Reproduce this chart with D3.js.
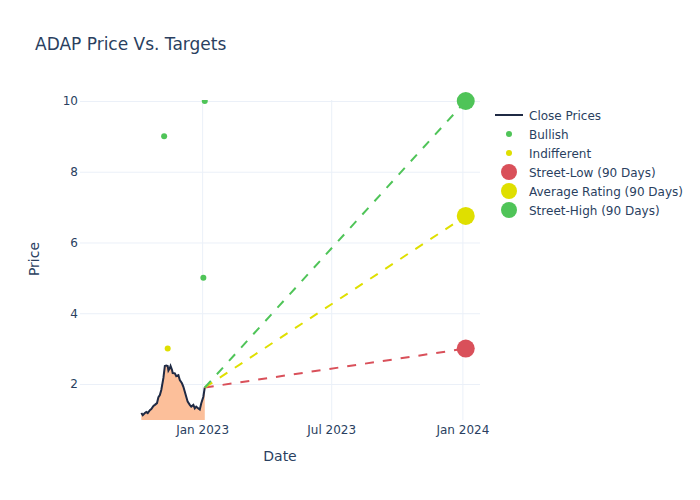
<!DOCTYPE html>
<html><head><meta charset="utf-8">
<script src="https://cdn.jsdelivr.net/npm/d3@7"></script>
<style>body{margin:0;background:#fff;} text{font-family:"DejaVu Sans",sans-serif;}</style>
</head><body><svg id="c" width="700" height="500"></svg>
<script>
const priceDates = ["2022-10-07","2022-10-09","2022-10-12","2022-10-14","2022-10-16","2022-10-19","2022-10-21","2022-10-24","2022-10-26","2022-10-29","2022-10-31","2022-11-02","2022-11-04","2022-11-07","2022-11-09","2022-11-11","2022-11-13","2022-11-14","2022-11-16","2022-11-17","2022-11-19","2022-11-20","2022-11-23","2022-11-25","2022-11-28","2022-11-30","2022-12-03","2022-12-05","2022-12-07","2022-12-09","2022-12-11","2022-12-14","2022-12-16","2022-12-19","2022-12-21","2022-12-23","2022-12-26","2022-12-28","2022-12-30","2023-01-02","2023-01-04"];
const priceValues = [1.18,1.12,1.18,1.21,1.18,1.26,1.29,1.38,1.41,1.46,1.63,1.69,1.83,2.17,2.51,2.52,2.51,2.38,2.45,2.51,2.40,2.31,2.30,2.22,2.25,2.11,2.02,1.92,1.78,1.64,1.50,1.41,1.36,1.41,1.31,1.36,1.31,1.28,1.45,1.64,1.90];
const bullishDates = ["2022-11-08","2023-01-02","2023-01-04"];
const bullishValues = [9, 5, 10];
const indifferentDates = ["2022-11-13"];
const indifferentValues = [3];
const targetDate = "2024-01-05";
const targetNames = ["Street-Low (90 Days)","Average Rating (90 Days)","Street-High (90 Days)"];
const targetValues = [3, 6.75, 10];
const targetColors = ["#d9505a","#dfdf00","#4fc458"];
const xTickDates = ["2023-01-01","2023-07-01","2024-01-01"];
const xTickLabels = ["Jan 2023","Jul 2023","Jan 2024"];
const yTicks = [2,4,6,8,10];

const parse = d3.timeParse("%Y-%m-%d");
const svg = d3.select("#c");
const L=80, R=480, T=100, B=420;
const x = d3.scaleTime().domain([parse("2022-07-13"), parse("2024-01-25")]).range([L,R]);
const y = d3.scaleLinear().domain([0.982, 10.028]).range([B,T]);
const txt = "#2a3f5f", grid = "#ebf0f8";

svg.append("defs").append("clipPath").attr("id","clip").append("rect").attr("x",L).attr("y",T).attr("width",R-L).attr("height",B-T);

const g = svg.append("g");
g.selectAll(".gy").data(yTicks).join("line").attr("x1",L).attr("x2",R).attr("y1",d=>y(d)+0.5).attr("y2",d=>y(d)+0.5).attr("stroke",grid).attr("stroke-width",1);
g.selectAll(".gx").data(xTickDates).join("line").attr("x1",d=>x(parse(d))).attr("x2",d=>x(parse(d))).attr("y1",T).attr("y2",B).attr("stroke",grid).attr("stroke-width",1);

svg.selectAll(".yt").data(yTicks).join("text").attr("x",L-2).attr("y",d=>y(d)+4.5).attr("text-anchor","end").attr("font-size",12).attr("fill",txt).text(d=>d);
svg.selectAll(".xt").data(xTickDates).join("text").attr("x",d=>x(parse(d))).attr("y",B+14).attr("text-anchor","middle").attr("font-size",12).attr("fill",txt).text((d,i)=>xTickLabels[i]);
svg.append("text").attr("x",280).attr("y",461).attr("text-anchor","middle").attr("font-size",14).attr("fill",txt).text("Date");
svg.append("text").attr("transform","translate(39,259) rotate(-90)").attr("text-anchor","middle").attr("font-size",14).attr("fill",txt).text("Price");
svg.append("text").attr("x",35).attr("y",50).attr("font-size",17).attr("fill",txt).text("ADAP Price Vs. Targets");

const plot = svg.append("g").attr("clip-path","url(#clip)");
const price = priceDates.map((d,i)=>({d:parse(d),v:priceValues[i]}));
plot.append("path").datum(price).attr("d",d3.area().x(p=>x(p.d)).y0(y(0)).y1(p=>y(p.v))).attr("fill","#fcbf9a").attr("stroke","none");
plot.append("path").datum(price).attr("d",d3.line().x(p=>x(p.d)).y(p=>y(p.v))).attr("fill","none").attr("stroke","#1f2a44").attr("stroke-width",2);

const last = price[price.length-1];
[0,1,2].forEach(i=>{
  plot.append("line").attr("x1",x(last.d)).attr("y1",y(last.v)).attr("x2",x(parse(targetDate))).attr("y2",y(targetValues[i]))
    .attr("stroke",targetColors[i]).attr("stroke-width",2).attr("stroke-dasharray","9,9");
});
plot.selectAll(".bu").data(bullishDates).join("circle").attr("cx",d=>x(parse(d))).attr("cy",(d,i)=>y(bullishValues[i])).attr("r",3).attr("fill","#4fc458");
plot.selectAll(".in").data(indifferentDates).join("circle").attr("cx",d=>x(parse(d))).attr("cy",(d,i)=>y(indifferentValues[i])).attr("r",3).attr("fill","#dfdf00");
svg.selectAll(".tg").data(targetValues).join("circle").attr("cx",x(parse(targetDate))).attr("cy",d=>y(d)).attr("r",9).attr("fill",(d,i)=>targetColors[i]);

const lg = svg.append("g");
const items = [{n:"Close Prices",t:"line",c:"#1f2a44"},{n:"Bullish",t:"s",c:"#4fc458"},{n:"Indifferent",t:"s",c:"#dfdf00"}]
  .concat(targetNames.map((n,i)=>({n:n,t:"b",c:targetColors[i]})));
items.forEach((it,i)=>{
  const yy = 115 + i*19;
  if(it.t==="line") lg.append("line").attr("x1",495).attr("x2",523).attr("y1",yy).attr("y2",yy).attr("stroke",it.c).attr("stroke-width",2);
  else lg.append("circle").attr("cx",509).attr("cy",yy).attr("r",it.t==="s"?3:8).attr("fill",it.c);
  lg.append("text").attr("x",529).attr("y",yy+4.5).attr("font-size",12).attr("fill",txt).text(it.n);
});
</script></body></html>
